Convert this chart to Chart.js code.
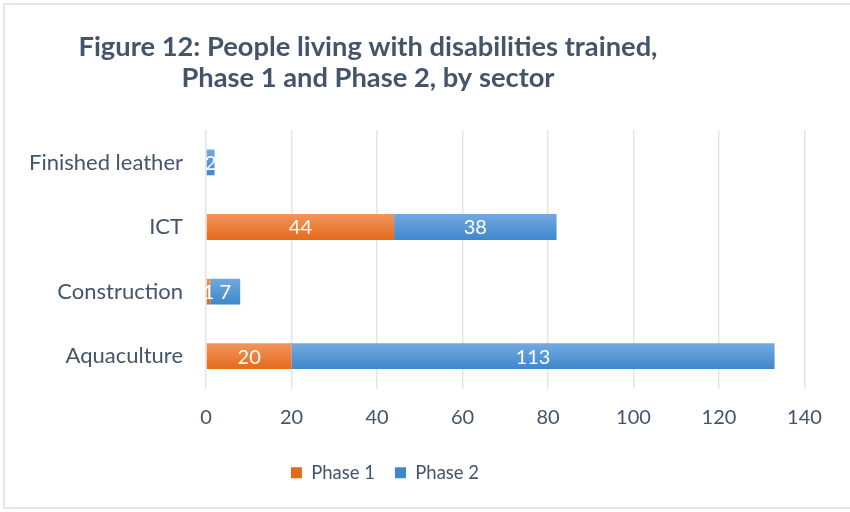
<!DOCTYPE html>
<html>
<head>
<meta charset="utf-8">
<script src="https://cdn.jsdelivr.net/npm/chart.js@4/dist/chart.umd.min.js"></script>
<style>
  html, body { margin: 0; padding: 0; background: #fff; }
  #wrap { position: relative; width: 850px; height: 512px; }
  #frame { position: absolute; left: 3px; top: 3px; width: 860px; height: 506px;
           border: 2px solid #e3e7ec; box-sizing: border-box; pointer-events: none; }
  canvas { position: absolute; left: 0; top: 0; }
</style>
</head>
<body>
<div id="wrap">
  <canvas id="sectorChart" width="850" height="512"></canvas>
  <div id="frame"></div>
</div>
<script>
// data
const sectors = ['Finished leather', 'ICT', 'Construction', 'Aquaculture'];
const phase1 = [0, 44, 1, 20];
const phase2 = [2, 38, 7, 113];
const xTicks = [0, 20, 40, 60, 80, 100, 120, 140];
const titleLines = ['Figure 12: People living with disabilities trained,', 'Phase 1 and Phase 2, by sector'];

const textColor = '#44546a';
const fontFamily = 'Lato, "Noto Sans", sans-serif';

// vertical gradient per bar, built from the category scale
function barGradient(top, bottom) {
    return function(context) {
        const chart = context.chart;
        const yScale = chart.scales.y;
        if (!chart.chartArea || !yScale) return bottom;
        const cy = yScale.getPixelForValue(context.dataIndex);
        const half = (chart.chartArea.height / sectors.length) * 0.4 / 2;
        const g = chart.ctx.createLinearGradient(0, cy - half, 0, cy + half);
        g.addColorStop(0, top);
        g.addColorStop(1, bottom);
        return g;
    };
}

// white labels centred in each segment
const segmentLabels = {
    id: 'segmentLabels',
    afterDatasetsDraw(chart) {
        const ctx = chart.ctx;
        ctx.save();
        ctx.font = '20px ' + fontFamily;
        ctx.fillStyle = '#ffffff';
        ctx.textAlign = 'center';
        ctx.textBaseline = 'middle';
        chart.data.datasets.forEach((ds, i) => {
            chart.getDatasetMeta(i).data.forEach((bar, j) => {
                if (!ds.data[j]) return;
                const x = (bar.x + bar.base) / 2;
                ctx.fillText(String(ds.data[j]), x, bar.y + 1);
            });
        });
        ctx.restore();
    }
};

// the title and legend in the original sit left of the canvas centre
const shiftBlocks = {
    id: 'shiftBlocks',
    afterLayout(chart) {
        const t = chart.titleBlock;
        if (t) { t.left = 0; t.right = 736; t.width = 736; }
        const l = chart.legend;
        if (l) { l.left = 0; l.right = 770; l.width = 770; }
    }
};

const ctx = document.getElementById('sectorChart').getContext('2d');
new Chart(ctx, {
    type: 'bar',
    data: {
        labels: sectors,
        datasets: [
            {
                label: 'Phase 1',
                data: phase1,
                backgroundColor: barGradient('#f3955c', '#e36a1c'),
                barPercentage: 0.4,
                categoryPercentage: 1
            },
            {
                label: 'Phase 2',
                data: phase2,
                backgroundColor: barGradient('#72aae0', '#3f87cb'),
                barPercentage: 0.4,
                categoryPercentage: 1
            }
        ]
    },
    options: {
        indexAxis: 'y',
        responsive: false,
        animation: false,
        layout: { padding: { top: 0, left: 0, right: 45.5, bottom: 20 } },
        plugins: {
            title: {
                display: true,
                text: titleLines,
                color: textColor,
                font: { family: fontFamily, size: 27.3, weight: 'bold', lineHeight: 1.14 },
                padding: { top: 31.5, bottom: 36.4 }
            },
            legend: {
                position: 'bottom',
                labels: {
                    color: textColor,
                    font: { family: fontFamily, size: 18.5 },
                    boxWidth: 11,
                    boxHeight: 11,
                    padding: 20
                }
            },
            tooltip: { enabled: false }
        },
        scales: {
            x: {
                stacked: true,
                min: 0,
                max: 140,
                afterBuildTicks: (scale) => { scale.ticks = xTicks.map(v => ({ value: v })); },
                afterFit: (scale) => { scale.height = 55; },
                grid: { color: '#e1e5ea', lineWidth: 1.5, drawTicks: false },
                border: { display: false },
                ticks: {
                    color: textColor,
                    font: { family: fontFamily, size: 20 },
                    padding: 17
                }
            },
            y: {
                stacked: true,
                afterFit: (scale) => { scale.width = 206; },
                grid: { display: false, drawTicks: false },
                border: { display: false },
                ticks: {
                    color: textColor,
                    font: { family: fontFamily, size: 22 },
                    padding: 23
                }
            }
        }
    },
    plugins: [segmentLabels, shiftBlocks]
});
</script>
</body>
</html>
